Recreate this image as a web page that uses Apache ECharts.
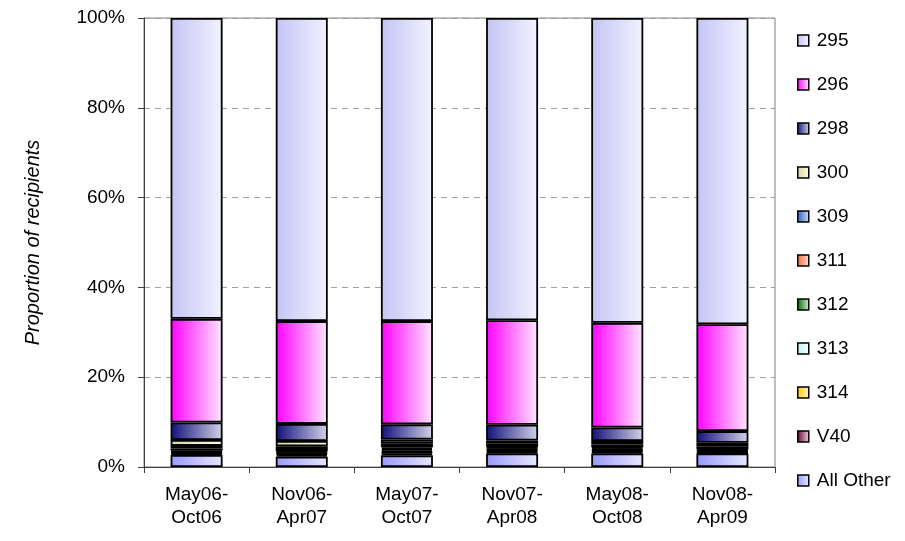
<!DOCTYPE html>
<html>
<head>
<meta charset="utf-8">
<script src="https://cdn.jsdelivr.net/npm/echarts@6/dist/echarts.min.js"></script>
<style>
html,body{margin:0;padding:0;background:#fff;}
#chart{width:905px;height:541px;}
</style>
</head>
<body>
<div id="chart"></div>
<script>
const categories = ['May06-\nOct06','Nov06-\nApr07','May07-\nOct07','Nov07-\nApr08','May08-\nOct08','Nov08-\nApr09'];
const yTicks = [0,20,40,60,80,100];

// values in percent, bottom of stack first
const allOther = [2.7, 2.3, 2.6, 3.0, 3.0, 3.0];
const v40      = [0.3, 0.4, 0.4, 0.3, 0.3, 0.2];
const s314     = [0.2, 0.3, 0.3, 0.3, 0.3, 0.2];
const s313     = [0.2, 0.2, 0.3, 0.2, 0.2, 0.2];
const s312     = [0.2, 0.3, 0.4, 0.3, 0.3, 0.2];
const s311     = [0.5, 0.5, 0.4, 0.3, 0.3, 0.2];
const s309     = [0.6, 0.6, 0.8, 0.8, 0.6, 0.6];
const s300     = [1.3, 1.2, 0.9, 0.7, 0.8, 0.8];
const s298     = [3.9, 3.8, 3.4, 3.5, 3.0, 2.6];
const s296     = [23.1, 22.9, 23.0, 23.3, 23.3, 23.8];
const s295     = [67.0, 67.5, 67.5, 67.3, 67.9, 68.2];

const seriesNames = ['All Other','V40','314','313','312','311','309','300','298','296','295'];
const seriesValues = [allOther, v40, s314, s313, s312, s311, s309, s300, s298, s296, s295];
const seriesColors = {
  '295': ['#C4C4F4', '#F2F2FF'],
  '296': ['#FF00FF', '#FFE8FF'],
  '298': ['#10107A', '#D4D4E8'],
  '300': ['#D6D6A0', '#FFFFE0'],
  '309': ['#2E5EC0', '#D0E2FF'],
  '311': ['#FF6633', '#FFE2D4'],
  '312': ['#006600', '#D4F0D4'],
  '313': ['#BFF5F5', '#F2FFFF'],
  '314': ['#FFCC00', '#FFF2C4'],
  'V40': ['#660033', '#F2D4E2'],
  'All Other': ['#9999FF', '#E8E8FF']
};

const chart = echarts.init(document.getElementById('chart'));
const grad = (c) => new echarts.graphic.LinearGradient(0, 0, 1, 0, [
  {offset: 0, color: c[0]}, {offset: 1, color: c[1]}
]);

const series = seriesNames.map((name, i) => ({
  name: name,
  type: 'bar',
  stack: 'total',
  barWidth: 52,
  data: seriesValues[i],
  itemStyle: {color: grad(seriesColors[name]), borderColor: '#000', borderWidth: 1.8},
  emphasis: {disabled: true}
}));

chart.setOption({
  animation: false,
  textStyle: {fontFamily: 'Liberation Sans, Arial, sans-serif'},
  grid: {left: 144, right: 130, top: 18, bottom: 74, show: true, borderColor: '#808080', borderWidth: 1},
  legend: {
    orient: 'vertical',
    left: 797, top: 31,
    padding: 0,
    data: seriesNames.slice().reverse(),
    itemWidth: 11, itemHeight: 11,
    itemGap: 25,
    icon: 'rect',
    itemStyle: {borderColor: '#000', borderWidth: 1.5},
    textStyle: {fontSize: 19, color: '#000', lineHeight: 19, padding: [0,0,0,3]}
  },
  xAxis: {
    type: 'category',
    data: categories,
    axisLine: {lineStyle: {color: '#404040', width: 1}},
    axisTick: {show: true, length: 6, lineStyle: {color: '#404040'}},
    axisLabel: {fontSize: 19, color: '#000', lineHeight: 23, margin: 16}
  },
  yAxis: {
    type: 'value',
    min: 0, max: 100, interval: 20,
    name: 'Proportion of recipients',
    nameLocation: 'middle',
    nameGap: 101,
    nameTextStyle: {fontSize: 20, fontStyle: 'italic', color: '#000'},
    axisLine: {show: true, lineStyle: {color: '#404040', width: 1}},
    axisTick: {show: true, length: 6, lineStyle: {color: '#404040'}},
    axisLabel: {fontSize: 19, color: '#000', margin: 19,
      formatter: (v) => yTicks.includes(v) ? v + '%' : ''},
    splitLine: {show: true, lineStyle: {color: '#A0A0A0', type: [6, 5]}}
  },
  series: series
});
</script>
</body>
</html>
